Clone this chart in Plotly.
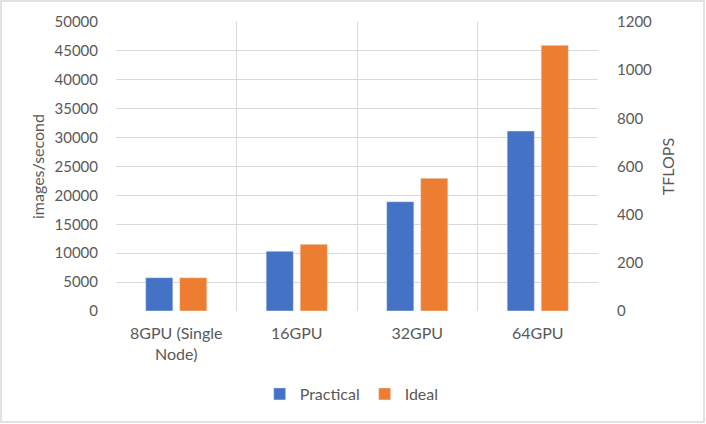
import plotly.graph_objects as go

categories = ["8GPU (Single<br>Node)", "16GPU", "32GPU", "64GPU"]
practical = [5760, 10330, 18910, 31140]
ideal = [5760, 11540, 22960, 45970]
tflops_range = [0, 1200]

W, H = 706, 424
L, R, T, B = 116, 108, 22, 113
pw, ph = W - L - R, H - T - B

fig = go.Figure()
fig.add_trace(go.Bar(name="Practical", x=categories, y=practical, marker_color="#4472C4"))
fig.add_trace(go.Bar(name="Ideal", x=categories, y=ideal, marker_color="#ED7D31"))
fig.add_trace(go.Scatter(x=[categories[0]], y=[tflops_range[0]], yaxis="y2", mode="markers",
                         marker=dict(opacity=0), showlegend=False, hoverinfo="skip"))

font = dict(family="Lato", size=15, color="#595959")
font16 = dict(family="Lato", size=16, color="#595959")
fig.update_layout(
    width=W, height=H,
    margin=dict(l=L, r=R, t=T, b=B, pad=0, autoexpand=False),
    paper_bgcolor="white", plot_bgcolor="rgba(0,0,0,0)",
    font=font,
    barmode="group", bargap=0.436, bargroupgap=0.2,
    xaxis=dict(type="category", tickson="boundaries", showgrid=True, gridcolor="#D9D9D9",
               gridwidth=1.2, ticklen=0, showline=False, zeroline=False, tickfont=font16,
               automargin=False, ticklabelstandoff=11),
    yaxis=dict(range=[0, 50000], dtick=5000, tickformat="d", showgrid=True, gridcolor="#D9D9D9",
               gridwidth=1.2, zeroline=False, showline=False, ticks="", ticklabelstandoff=17,
               automargin=False,
               title=dict(text="images/second", font=font16, standoff=5), tickfont=font),
    yaxis2=dict(range=tflops_range, dtick=200, overlaying="y", side="right", showgrid=False,
                anchor="x", zeroline=False, showline=False, ticks="", ticklabelstandoff=18,
                automargin=False,
                title=dict(text="TFLOPS", font=font16, standoff=11), tickfont=font),
    legend=dict(orientation="h", x=0.489, xanchor="center", y=(T + ph - 394) / ph, yanchor="middle",
                font=font16, itemwidth=30, traceorder="normal"),
    shapes=[dict(type="rect", xref="paper", yref="paper",
                 x0=(1 - L) / pw, x1=(W - 2 - L) / pw,
                 y0=(T + ph - (H - 2)) / ph, y1=(T + ph - 1) / ph,
                 line=dict(color="#D9D9D9", width=1.5), layer="below")],
    showlegend=True,
)
fig.write_html("out.html", config={"displayModeBar": False},
               post_script="document.body.style.margin='0';")
